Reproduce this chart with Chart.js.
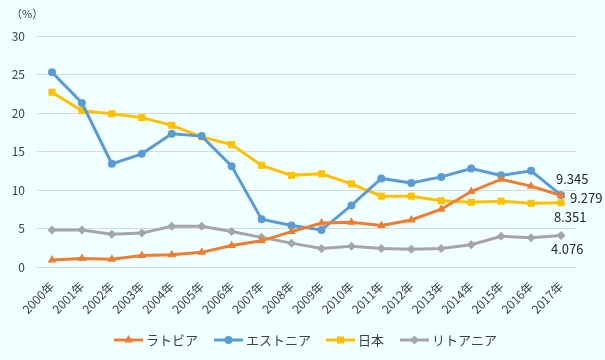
<!DOCTYPE html>
<html><head><meta charset="utf-8">
<script src="https://cdn.jsdelivr.net/npm/chart.js@4.4.1/dist/chart.umd.min.js"></script>
<style>html,body{margin:0;padding:0;background:#F0FFFF;}#wrap{width:605px;height:360px;}</style>
</head><body><div id="wrap"><canvas id="c" width="605" height="360"></canvas></div>
<script>
const years = ["2000年","2001年","2002年","2003年","2004年","2005年","2006年","2007年","2008年","2009年","2010年","2011年","2012年","2013年","2014年","2015年","2016年","2017年"];
const latvia =    [0.9,1.1,1.0,1.5,1.6,1.9,2.8,3.4,4.6,5.7,5.8,5.4,6.1,7.5,9.8,11.4,10.5,9.279];
const estonia =   [25.3,21.3,13.4,14.7,17.3,17.0,13.1,6.2,5.4,4.8,8.0,11.5,10.9,11.7,12.8,11.9,12.5,9.345];
const japan =     [22.7,20.3,19.9,19.4,18.4,16.9,15.9,13.2,11.9,12.1,10.8,9.2,9.2,8.6,8.4,8.55,8.27,8.351];
const lithuania = [4.8,4.8,4.25,4.4,5.3,5.3,4.6,3.85,3.1,2.4,2.7,2.4,2.3,2.4,2.9,4.0,3.8,4.076];
const seriesNames = ["ラトビア","エストニア","日本","リトアニア"];
const yTicks = [0,5,10,15,20,25,30];
const unitLabel = "（%）";

const FONT = "'Noto Sans CJK JP', 'Noto Sans', sans-serif";
const TXT = "#404040";

const colors = ["#ED7D31","#5B9BD5","#FFC000","#A5A5A5"];
const styles = ["triangle","circle","rect","rectRot"];
const radii = [5,4,5,4.5];
const dataArr = [latvia, estonia, japan, lithuania];

const datasets = dataArr.map((d,i)=>({
  label: seriesNames[i], data: d,
  borderColor: colors[i], backgroundColor: colors[i],
  borderWidth: 3, pointStyle: styles[i], pointRadius: radii[i],
  pointBorderWidth: 0, pointBackgroundColor: colors[i], tension: 0
}));

// label offsets for the last-point values [dx, dy]
const endLabelPos = [[9, 3], [-5, -16], [-7, 14], [-10, 13]];
// legend item left edges
const legendX = [114, 214, 326, 400];

const bgPlugin = {
  id: 'bg',
  beforeDraw(chart){
    const ctx = chart.ctx; ctx.save(); ctx.fillStyle = "#F0FFFF";
    ctx.fillRect(0,0,chart.width,chart.height); ctx.restore();
  }
};

const extrasPlugin = {
  id: 'extras',
  afterDatasetsDraw(chart){
    const ctx = chart.ctx;
    ctx.save();
    ctx.font = "13px " + FONT;
    ctx.fillStyle = "#262626";
    ctx.textBaseline = "middle";
    chart.data.datasets.forEach((ds,i)=>{
      const meta = chart.getDatasetMeta(i);
      const last = meta.data[meta.data.length-1];
      const v = ds.data[ds.data.length-1];
      const p = endLabelPos[i];
      ctx.textAlign = "left";
      ctx.fillText(v.toFixed(3), last.x + p[0], last.y + p[1]);
    });
    // unit label
    ctx.font = "11px " + FONT;
    ctx.fillStyle = TXT;
    ctx.textAlign = "left";
    ctx.fillText(unitLabel, 11, 14);
    // legend
    ctx.font = "13px " + FONT;
    const lineLen = 29, gapText = 3;
    const y = 340;
    chart.data.datasets.forEach((ds,i)=>{
      const x = legendX[i];
      ctx.strokeStyle = colors[i]; ctx.lineWidth = 3;
      ctx.beginPath(); ctx.moveTo(x, y); ctx.lineTo(x+lineLen, y); ctx.stroke();
      ctx.fillStyle = colors[i];
      Chart.helpers.drawPoint(ctx, {pointStyle: styles[i], radius: radii[i], rotation: 0, borderWidth: 0}, x+lineLen/2, y);
      ctx.fillStyle = TXT; ctx.textAlign = "left";
      ctx.fillText(ds.label, x + lineLen + gapText, y);
    });
    ctx.restore();
  }
};

new Chart(document.getElementById('c'), {
  type: 'line',
  data: { labels: years, datasets },
  options: {
    responsive: false, animation: false, devicePixelRatio: 1,
    layout: { padding: { left: 0, right: 29, top: 36, bottom: 0 } },
    plugins: { legend: { display: false }, tooltip: { enabled: false } },
    scales: {
      x: {
        offset: true,
        grid: { display: false, drawTicks: false },
        border: { display: true, color: "#d9d9d9" },
        ticks: { color: TXT, font: { family: FONT, size: 12 }, minRotation: 45, maxRotation: 45, autoSkip: false, padding: 12 },
        afterFit(s){ s.height = 93; }
      },
      y: {
        min: 0, max: 30,
        afterBuildTicks(s){ s.ticks = yTicks.map(v=>({value:v})); },
        grid: { color: "#d9d9d9", drawTicks: false, lineWidth: 1 },
        border: { display: false },
        ticks: { color: TXT, font: { family: FONT, size: 12 }, padding: 12 },
        afterFit(s){ s.width = 37; }
      }
    }
  },
  plugins: [bgPlugin, extrasPlugin]
});
</script></body></html>
